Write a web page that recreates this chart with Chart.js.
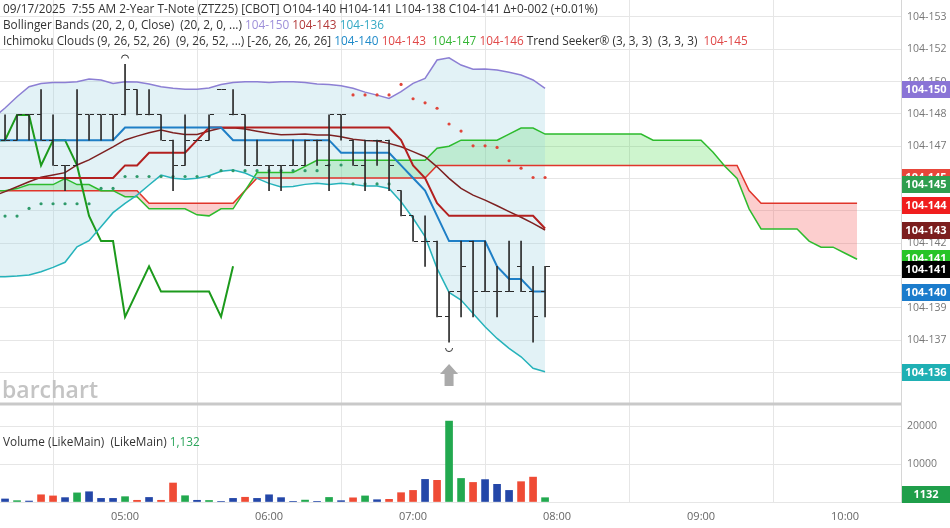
<!DOCTYPE html>
<html>
<head>
<meta charset="utf-8">
<script src="https://cdn.jsdelivr.net/npm/chart.js@4.4.1/dist/chart.umd.min.js"></script>
<style>
  html, body { margin: 0; padding: 0; background: #fff; }
  #wrap { position: relative; width: 950px; height: 528px; overflow: hidden; }
  #chart { position: absolute; left: 0; top: 0; }
  .txt { position: absolute; font-family: 'Open Sans', sans-serif; font-size: 11.8px; color: #333; white-space: pre; line-height: 16px; }
  .mark { position: absolute; left: 2px; top: 378px; font-family: 'Open Sans', sans-serif; font-weight: 600; font-size: 23px; line-height: 23px; color: #c4c4c4; }
</style>
</head>
<body>
<div id="wrap">
  <canvas id="chart" width="950" height="528"></canvas>
  <div class="txt" style="left:3px;top:0px"><div>09/17/2025  7:55 AM 2-Year T-Note (ZTZ25) [CBOT] O104-140 H104-141 L104-138 C104-141 Δ+0-002 (+0.01%)</div><div>Bollinger Bands (20, 2, 0, Close)  (20, 2, 0, ...) <span style="color:#9d8fd9">104-150</span> <span style="color:#b23a3a">104-143</span> <span style="color:#35a9c4">104-136</span></div><div>Ichimoku Clouds (9, 26, 52, 26)  (9, 26, 52, ...) [-26, 26, 26, 26] <span style="color:#1f8ac9">104-140</span> <span style="color:#e04848">104-143</span>  <span style="color:#35b535">104-147</span> <span style="color:#e04848">104-146</span> Trend Seeker® (3, 3, 3)  (3, 3, 3)  <span style="color:#e04848">104-145</span></div></div>
  <div class="txt" style="left:3px;top:433px">Volume (LikeMain)  (LikeMain) <span style="color:#2aa55a">1,132</span></div>
  <div class="mark">barchart</div>
</div>
<script>
// 5-minute bars, prices in 32nds above 104 (e.g. 14.125 = 104-141)
const times = [
  '04:05','04:10','04:15','04:20','04:25','04:30','04:35','04:40','04:45','04:50','04:55',
  '05:00','05:05','05:10','05:15','05:20','05:25','05:30','05:35','05:40','05:45','05:50','05:55',
  '06:00','06:05','06:10','06:15','06:20','06:25','06:30','06:35','06:40','06:45','06:50','06:55',
  '07:00','07:05','07:10','07:15','07:20','07:25','07:30','07:35','07:40','07:45','07:50','07:55',
  '08:00','08:05','08:10','08:15','08:20','08:25','08:30','08:35','08:40','08:45','08:50','08:55',
  '09:00','09:05','09:10','09:15','09:20','09:25','09:30','09:35','09:40','09:45','09:50','09:55',
  '10:00','10:05'
];

// OHLC + volume, 04:10 .. 07:55
const opens = [14.75, 14.75, 14.875, 14.875, 14.75, 14.625, 14.625, 14.875, 14.875, 14.875,
  14.875, 15.0, 14.875, 14.875, 14.75, 14.625, 14.75, 14.75, 15.0, 14.875,
  14.875, 14.625, 14.625, 14.625, 14.625, 14.625, 14.75, 14.625, 14.875, 14.75,
  14.625, 14.75, 14.75, 14.5, 14.375, 14.25, 14.25, 13.875, 14.0, 14.25,
  14.0, 14.0, 14.0, 14.125, 14.0, 14.0];
const highs = [14.875, 14.875, 14.875, 15.0, 14.875, 14.625, 15.0, 14.875, 14.875, 14.875,
  15.125, 15.0, 15.0, 14.875, 14.75, 14.875, 14.75, 14.875, 15.0, 15.0,
  14.875, 14.75, 14.625, 14.625, 14.75, 14.75, 14.75, 14.875, 14.875, 14.75,
  14.75, 14.75, 14.75, 14.5, 14.375, 14.375, 14.25, 14.0, 14.25, 14.25,
  14.25, 14.125, 14.25, 14.25, 14.125, 14.125];
const lows = [14.75, 14.75, 14.75, 14.75, 14.625, 14.5, 14.625, 14.75, 14.75, 14.75,
  14.875, 14.875, 14.875, 14.75, 14.5, 14.625, 14.75, 14.75, 15.0, 14.875,
  14.625, 14.625, 14.5, 14.5, 14.625, 14.625, 14.625, 14.5, 14.75, 14.625,
  14.5, 14.625, 14.5, 14.375, 14.25, 14.125, 13.875, 13.75, 13.875, 13.875,
  14.0, 13.875, 14.0, 14.0, 13.75, 13.875];
const closes = [14.75, 14.875, 14.875, 14.75, 14.625, 14.625, 14.875, 14.875, 14.875, 14.875,
  15.0, 14.875, 14.875, 14.75, 14.625, 14.75, 14.75, 14.875, 15.0, 14.875,
  14.625, 14.625, 14.625, 14.625, 14.625, 14.75, 14.75, 14.875, 14.875, 14.625,
  14.75, 14.75, 14.625, 14.375, 14.25, 14.25, 13.875, 14.0, 14.125, 14.0,
  14.0, 14.0, 14.0, 14.0, 13.875, 14.125];
const volumes = [800, 350, 250, 1900, 1600, 1150, 2400, 2700, 950, 950,
  1400, 450, 1200, 450, 5000, 1650, 450, 400, 150, 950,
  1250, 950, 1900, 1150, 100, 500, 100, 1200, 350, 1100,
  1600, 600, 700, 2450, 3050, 5950, 5700, 21300, 6200, 5150,
  5900, 4650, 3050, 5350, 6550, 1132];

// Bollinger Bands (20,2), 04:05 .. 07:55
const bbUpper = [14.86, 14.909, 14.965, 15.015, 15.031, 15.036, 15.036, 15.039, 15.053, 15.048, 15.031,
  15.039, 15.038, 15.028, 15.015, 15.007, 15.002, 15.002, 15.008, 15.026, 15.035,
  15.039, 15.039, 15.036, 15.039, 15.039, 15.036, 15.028, 15.026, 15.020, 15.007,
  14.988, 14.973, 14.957, 14.990, 15.031, 15.056, 15.147, 15.158, 15.122, 15.101,
  15.102, 15.097, 15.086, 15.073, 15.048, 15.007];
const bbMiddle = [14.473, 14.495, 14.519, 14.544, 14.566, 14.577, 14.589, 14.627, 14.652, 14.685, 14.717,
  14.751, 14.770, 14.787, 14.800, 14.787, 14.778, 14.778, 14.795, 14.810, 14.812,
  14.805, 14.794, 14.784, 14.777, 14.778, 14.780, 14.775, 14.775, 14.767, 14.754,
  14.748, 14.746, 14.734, 14.717, 14.693, 14.668, 14.618, 14.561, 14.511, 14.478,
  14.453, 14.425, 14.396, 14.368, 14.338, 14.305];
const bbLower = [14.074, 14.074, 14.077, 14.082, 14.098, 14.120, 14.145, 14.222, 14.252, 14.321, 14.391,
  14.437, 14.478, 14.528, 14.577, 14.561, 14.556, 14.561, 14.574, 14.596, 14.602,
  14.587, 14.561, 14.536, 14.518, 14.520, 14.531, 14.536, 14.531, 14.536, 14.531,
  14.523, 14.523, 14.511, 14.445, 14.363, 14.272, 14.115, 13.996, 13.958, 13.892,
  13.826, 13.768, 13.719, 13.677, 13.620, 13.603];

// Ichimoku, 04:05 .. 07:55
const conversion = [14.75, 14.75, 14.75, 14.75, 14.75, 14.75, 14.75, 14.75, 14.75, 14.75, 14.75,
  14.8125, 14.8125, 14.8125, 14.8125, 14.8125, 14.8125, 14.8125, 14.8125, 14.8125, 14.75,
  14.75, 14.75, 14.75, 14.75, 14.75, 14.75, 14.75, 14.75, 14.6875, 14.6875,
  14.6875, 14.6875, 14.6875, 14.625, 14.5625, 14.5, 14.375, 14.25, 14.25, 14.25,
  14.25, 14.125, 14.0625, 14.0625, 14.0, 14.0];
const baseLine = [14.5625, 14.5625, 14.5625, 14.5625, 14.5625, 14.5625, 14.5625, 14.5625, 14.5625, 14.5625, 14.5625,
  14.625, 14.625, 14.6875, 14.6875, 14.6875, 14.6875, 14.75, 14.8125, 14.8125, 14.8125,
  14.8125, 14.8125, 14.8125, 14.8125, 14.8125, 14.8125, 14.8125, 14.8125, 14.8125, 14.8125,
  14.8125, 14.8125, 14.8125, 14.75, 14.625, 14.5625, 14.4375, 14.375, 14.375, 14.375,
  14.375, 14.375, 14.375, 14.375, 14.375, 14.3125];
// lagging span, 04:05 .. 05:45
const lagging = [14.75, 14.75, 14.875, 14.875, 14.625, 14.75, 14.75, 14.625, 14.375, 14.25, 14.25,
  13.875, 14.0, 14.125, 14.0, 14.0, 14.0, 14.0, 14.0, 13.875, 14.125];
// cloud spans, 04:05 .. 10:05
const spanA = [14.5, 14.5, 14.51, 14.53, 14.53, 14.53, 14.56, 14.53, 14.53, 14.5, 14.5,
  14.47, 14.47, 14.41, 14.41, 14.41, 14.41, 14.38, 14.375, 14.41, 14.41,
  14.5, 14.59, 14.59, 14.59, 14.59, 14.62, 14.65, 14.65, 14.65, 14.65,
  14.65, 14.65, 14.65, 14.65, 14.65, 14.65, 14.71, 14.72, 14.75, 14.75,
  14.75, 14.75, 14.78, 14.81, 14.81, 14.78, 14.78, 14.78, 14.78, 14.78,
  14.78, 14.78, 14.78, 14.78, 14.75, 14.75, 14.75, 14.75, 14.75, 14.69,
  14.62, 14.56, 14.41, 14.31, 14.31, 14.31, 14.31, 14.25, 14.22, 14.22,
  14.19, 14.16];
const spanB = [14.5, 14.5, 14.5, 14.5, 14.5, 14.5, 14.5, 14.5, 14.5, 14.5, 14.5,
  14.5, 14.5, 14.4375, 14.4375, 14.4375, 14.4375, 14.4375, 14.4375, 14.4375, 14.4375,
  14.5, 14.5625, 14.5625, 14.5625, 14.5625, 14.5625, 14.5625, 14.5625, 14.5625, 14.5625,
  14.5625, 14.5625, 14.5625, 14.5625, 14.5625, 14.5625, 14.625, 14.625, 14.625, 14.625,
  14.625, 14.625, 14.625, 14.625, 14.625, 14.625, 14.625, 14.625, 14.625, 14.625,
  14.625, 14.625, 14.625, 14.625, 14.625, 14.625, 14.625, 14.625, 14.625, 14.625,
  14.625, 14.625, 14.5, 14.4375, 14.4375, 14.4375, 14.4375, 14.4375, 14.4375, 14.4375,
  14.4375, 14.4375];

// Trend Seeker dots, 04:10 .. 07:55
const trendUp = [14.374, 14.374, 14.412, 14.435, 14.435, 14.435, 14.435, 14.435, 14.511, 14.511,
  14.57, 14.57, 14.57, 14.57, 14.57, 14.57, 14.57, 14.57, 14.599, 14.599,
  14.599, 14.599, 14.599, 14.599, 14.599, 14.599, 14.599, 14.627, 14.627, 14.533,
  14.533, 14.533, 14.533, null, null, null, null, null, null, null,
  null, null, null, null, null, null];
const trendDown = [null, null, null, null, null, null, null, null, null, null,
  null, null, null, null, null, null, null, null, null, null,
  null, null, null, null, null, null, null, null, null, 14.974,
  14.974, 14.974, 14.974, 15.026, 14.955, 14.935, 14.908, 14.83, 14.795, 14.722,
  14.722, 14.714, 14.648, 14.611, 14.565, 14.565];

// axis ticks
const priceTicks = [15.36, 15.2, 15.04, 14.88, 14.72, 14.56, 14.4, 14.24, 14.08, 13.92, 13.76, 13.6];
const priceTickLabels = ['104-153', '104-152', '104-150', '104-148', '104-147', '104-145',
  '104-144', '104-142', '104-140', '104-139', '104-137', '104-136'];
const volumeTicks = [0, 10000, 20000];
const volumeTickLabels = ['', '10000', '20000'];
const hourLabels = ['05:00', '06:00', '07:00', '08:00', '09:00', '10:00'];

// last-value boxes on the price axis
const boxLabels = ['104-150', '104-145', '104-145', '104-144', '104-143', '104-141', '104-141', '104-140', '104-136'];
const boxValues = [15.003, 14.567, 14.535, 14.429, 14.305, 14.166, 14.112, 14.0, 13.602];
const boxColors = ['#8a74d6', '#e8463a', '#2e9e4f', '#f01e1e', '#7b1e1e', '#27c427', '#000000', '#1b7ccc', '#1fb0b4'];

const toMin = t => Number(t.slice(0, 2)) * 60 + Number(t.slice(3));
const X = times.map(toMin);
const pts = (arr, from) => arr.map((v, i) => ({ x: X[from + i], y: v }));

function tickMark(side) {
  const c = document.createElement('canvas');
  c.width = 9; c.height = 1;
  const g = c.getContext('2d');
  g.fillStyle = '#2b2b2b';
  g.fillRect(side === 'left' ? 0 : 5, 0, 4, 1);
  return c;
}

const volColors = opens.map((o, i) => closes[i] > o ? '#22a94f' : closes[i] < o ? '#ef4b35' : '#2447a8');

const lineDs = (label, data, color, width) => ({
  type: 'line', label, data, borderColor: color, borderWidth: width,
  pointRadius: 0, tension: 0, fill: false, yAxisID: 'y'
});

const overlay = {
  id: 'overlay',
  beforeDatasetsDraw(chart) { chart.ctx.imageSmoothingEnabled = false; },
  afterDraw(chart) {
    const { ctx, chartArea, scales: { x, y, yv } } = chart;
    ctx.save();
    // pane separator
    ctx.fillStyle = '#c9c9c9';
    ctx.fillRect(0, yv.top - 1.5, chartArea.right, 3);

    // highest high / lowest low markers
    const hi = highs.indexOf(Math.max(...highs));
    const lo = lows.indexOf(Math.min(...lows));
    ctx.strokeStyle = '#333';
    ctx.lineWidth = 1;
    let px = x.getPixelForValue(X[1 + hi]);
    let py = y.getPixelForValue(highs[hi]);
    ctx.beginPath(); ctx.arc(px, py - 6, 3.5, Math.PI, 2 * Math.PI); ctx.stroke();
    px = x.getPixelForValue(X[1 + lo]);
    py = y.getPixelForValue(lows[lo]);
    ctx.beginPath(); ctx.arc(px, py + 6, 3.5, 0, Math.PI); ctx.stroke();
    ctx.fillStyle = '#aaaaaa';
    ctx.beginPath();
    ctx.moveTo(px, py + 22);
    ctx.lineTo(px + 9, py + 32);
    ctx.lineTo(px + 4.5, py + 32);
    ctx.lineTo(px + 4.5, py + 44);
    ctx.lineTo(px - 4.5, py + 44);
    ctx.lineTo(px - 4.5, py + 32);
    ctx.lineTo(px - 9, py + 32);
    ctx.closePath();
    ctx.fill();

    // value boxes
    ctx.font = 'bold 11px "Open Sans", sans-serif';
    ctx.textAlign = 'center';
    ctx.textBaseline = 'middle';
    boxValues.forEach((v, i) => {
      const by = y.getPixelForValue(v);
      ctx.fillStyle = boxColors[i];
      ctx.fillRect(chartArea.right + 1, Math.round(by - 8), 48, 17);
      ctx.fillStyle = '#fff';
      ctx.fillText(boxLabels[i], chartArea.right + 25, by + 1);
    });
    const lastVol = volumes[volumes.length - 1];
    const vy = Math.min(yv.getPixelForValue(lastVol), yv.bottom - 8);
    ctx.fillStyle = '#1f9e4a';
    ctx.fillRect(chartArea.right + 1, Math.round(vy - 8), 48, 17);
    ctx.fillStyle = '#fff';
    ctx.fillText(String(lastVol), chartArea.right + 25, vy + 1);
    ctx.restore();
  }
};

Chart.defaults.font.family = "'Open Sans', sans-serif";

new Chart(document.getElementById('chart'), {
  type: 'line',
  data: {
    datasets: [
      { type: 'line', label: 'Open', data: pts(opens, 1), showLine: false, pointStyle: tickMark('left'), pointRadius: 3, yAxisID: 'y' },
      { type: 'line', label: 'Close', data: pts(closes, 1), showLine: false, pointStyle: tickMark('right'), pointRadius: 3, yAxisID: 'y' },
      { type: 'bar', label: 'High-Low', data: highs.map((h, i) => ({ x: X[1 + i], y: [lows[i], h] })),
        backgroundColor: '#2b2b2b', barThickness: 1, maxBarThickness: 1, grouped: false, yAxisID: 'y' },
      { type: 'line', label: 'Trend Seeker down', data: pts(trendDown, 1), showLine: false, pointRadius: 1.6,
        pointBackgroundColor: '#e0453a', pointBorderWidth: 0, yAxisID: 'y' },
      { type: 'line', label: 'Trend Seeker up', data: pts(trendUp, 1), showLine: false, pointRadius: 1.6,
        pointBackgroundColor: '#2e9a6a', pointBorderWidth: 0, yAxisID: 'y' },
      lineDs('Conversion', pts(conversion, 0), '#1f7fc6', 2),
      lineDs('Base', pts(baseLine, 0), '#b3201f', 2),
      lineDs('BB middle', pts(bbMiddle, 0), '#7d2121', 1.5),
      Object.assign(lineDs('BB upper', pts(bbUpper, 0), '#8c7fd4', 1.5),
        { fill: { target: 9 }, backgroundColor: 'rgba(150, 210, 222, 0.28)' }),
      lineDs('BB lower', pts(bbLower, 0), '#26b3bb', 1.5),
      lineDs('Lagging', pts(lagging, 0), '#1c9a1c', 2),
      Object.assign(lineDs('Span A', pts(spanA, 0), '#2dbb2d', 1.5),
        { fill: { target: 12, above: 'rgba(60, 215, 60, 0.25)', below: 'rgba(245, 80, 80, 0.28)' } }),
      lineDs('Span B', pts(spanB, 0), '#e0352b', 1.5),
      { type: 'bar', label: 'Volume', data: pts(volumes, 1), backgroundColor: volColors,
        barThickness: 7, maxBarThickness: 7, grouped: false, yAxisID: 'yv' }
    ]
  },
  options: {
    responsive: false,
    animation: false,
    devicePixelRatio: 1,
    layout: { padding: 0, autoPadding: false },
    plugins: {
      legend: { display: false },
      tooltip: { enabled: false },
      filler: { drawTime: 'beforeDatasetsDraw' }
    },
    scales: {
      x: {
        type: 'linear', min: 247.9, max: 623.3, offset: false,
        afterBuildTicks: s => { s.ticks = hourLabels.map(h => ({ value: toMin(h) })); },
        ticks: { callback: (v, i) => hourLabels[i], color: '#666', font: { size: 11 }, padding: 8, maxRotation: 0, autoSkip: false },
        grid: { color: '#e6e6e6', drawTicks: false },
        border: { display: false },
        afterFit: s => { s.height = 26; s.paddingLeft = 0; s.paddingRight = 0; }
      },
      y: {
        type: 'linear', position: 'right', stack: 'panes', stackWeight: 404,
        min: 13.4432, max: 15.4442,
        afterBuildTicks: s => { s.ticks = priceTicks.map(v => ({ value: v })); },
        ticks: { callback: (v, i) => priceTickLabels[i], color: '#777', font: { size: 10.5 }, padding: 6 },
        grid: { color: '#e6e6e6', drawTicks: false },
        border: { color: '#d6d6d6' },
        afterFit: s => { s.width = 49; s.paddingTop = 0; s.paddingBottom = 0; }
      },
      yv: {
        type: 'linear', position: 'right', stack: 'panes', stackWeight: 98,
        min: 0, max: 25800,
        afterBuildTicks: s => { s.ticks = volumeTicks.map(v => ({ value: v })); },
        ticks: { callback: (v, i) => volumeTickLabels[i], color: '#777', font: { size: 10.5 }, padding: 6 },
        grid: { color: '#e6e6e6', drawTicks: false },
        border: { color: '#d6d6d6' },
        afterFit: s => { s.width = 49; s.paddingTop = 0; s.paddingBottom = 0; }
      }
    }
  },
  plugins: [overlay]
});
</script>
</body>
</html>
